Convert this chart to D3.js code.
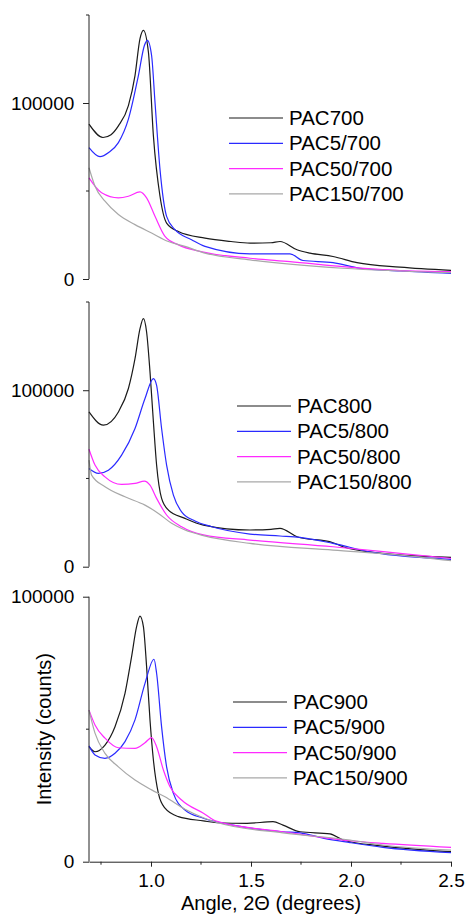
<!DOCTYPE html>
<html>
<head>
    <title>SAXS patterns of PAC samples</title>
    <script src="https://d3js.org/d3.v7.min.js"></script>
    <style>
        body { margin: 0; background: #fff; }
        .axis path, .axis line { stroke: #222; stroke-width: 1; }
        .axis text { font-family: "Liberation Sans", Arial, sans-serif; font-size: 19px; fill: #000; }
        .legend text { font-family: "Liberation Sans", Arial, sans-serif; font-size: 20.5px; fill: #000; }
        .axis-title { font-family: "Liberation Sans", Arial, sans-serif; font-size: 20px; fill: #000; }
        .curve { fill: none; stroke-width: 1.2; }
    </style>
</head>
<body>
<div id="chart"></div>
<script>
// angle (2 theta, degrees), intensity (counts)
const pac700 = [[0.69,88000],[0.76,80400],[0.8,82000],[0.837,87000],[0.887,98500],[0.92,115600],[0.945,136600],[0.962,141300],[0.987,129000],[1.012,81300],[1.045,47000],[1.078,31800],[1.137,27000],[1.27,23200],[1.4,21300],[1.495,20400],[1.6,20600],[1.645,21300],[1.73,16600],[1.795,14700],[1.91,12800],[2.03,9300],[2.245,6700],[2.5,4900]];
const pac5_700 = [[0.69,74700],[0.745,69500],[0.79,72000],[0.837,77500],[0.887,90800],[0.937,115600],[0.967,132700],[0.982,135600],[1.003,127000],[1.02,100400],[1.045,62300],[1.078,35600],[1.12,28000],[1.203,22300],[1.27,18500],[1.495,14300],[1.695,14300],[1.76,10500],[1.91,9300],[2.045,6100],[2.245,4600],[2.5,3200]];
const pac50_700 = [[0.69,57500],[0.753,49000],[0.837,46100],[0.887,47000],[0.945,49500],[0.978,46100],[1.02,35600],[1.07,24200],[1.137,19400],[1.25,15600],[1.495,11800],[1.695,9900],[1.96,7000],[2.245,4800],[2.5,4200]];
const pac150_700 = [[0.69,63200],[0.72,52700],[0.77,44200],[0.837,36600],[0.92,30900],[1.003,26100],[1.087,21300],[1.17,18500],[1.26,15000],[1.495,10900],[1.96,6100],[2.5,3600]];

const pac800 = [[0.69,87700],[0.762,80200],[0.837,87700],[0.887,101000],[0.92,117900],[0.945,134900],[0.962,140600],[0.978,133000],[0.995,110400],[1.012,82100],[1.028,57600],[1.053,38700],[1.087,32100],[1.17,27400],[1.262,23600],[1.495,20800],[1.6,21200],[1.645,21700],[1.73,17000],[1.91,13600],[1.96,11300],[2.11,8100],[2.5,5300]];
const pac5_800 = [[0.69,55700],[0.737,52900],[0.787,54700],[0.853,63200],[0.92,78300],[0.97,95300],[1.012,106600],[1.028,102800],[1.053,78300],[1.078,57600],[1.112,40600],[1.153,31100],[1.22,25900],[1.3,22800],[1.495,18500],[1.645,17400],[1.745,16600],[1.91,13200],[2.11,8100],[2.5,4200]];
const pac50_800 = [[0.69,66600],[0.72,57600],[0.77,50900],[0.853,46600],[0.92,47200],[0.967,48500],[0.995,46200],[1.028,38700],[1.078,29300],[1.153,22600],[1.262,18000],[1.495,15100],[1.91,11300],[2.245,7600],[2.5,4700]];
const pac150_800 = [[0.69,60400],[0.703,51900],[0.77,45300],[0.87,39600],[0.97,34900],[1.037,30200],[1.103,24600],[1.17,20800],[1.262,17600],[1.495,13200],[1.91,9400],[2.245,6600],[2.5,3400]];

const pac900 = [[0.69,43400],[0.72,41500],[0.77,44000],[0.82,50900],[0.87,63500],[0.903,77400],[0.928,88700],[0.945,92700],[0.962,88700],[0.978,73600],[0.995,53500],[1.012,38400],[1.037,25800],[1.07,20200],[1.137,17000],[1.262,15400],[1.33,14700],[1.48,14500],[1.61,15100],[1.66,13800],[1.745,11300],[1.895,10500],[1.96,8200],[2.16,5900],[2.5,3800]];
const pac5_900 = [[0.69,43700],[0.72,40300],[0.77,39000],[0.82,40900],[0.87,45300],[0.92,53500],[0.97,67300],[1.015,76400],[1.028,71100],[1.053,50900],[1.078,35800],[1.112,25800],[1.17,19500],[1.262,16400],[1.41,13800],[1.66,11300],[1.745,10900],[1.865,8800],[1.995,7200],[2.16,5400],[2.5,3400]];
const pac50_900 = [[0.69,57200],[0.72,51600],[0.77,46600],[0.837,43000],[0.92,42800],[0.97,44900],[1.003,46800],[1.028,43400],[1.062,34600],[1.095,28300],[1.153,23300],[1.262,18300],[1.33,15200],[1.66,11300],[1.995,7900],[2.16,6900],[2.5,5400]];
const pac150_900 = [[0.69,57200],[0.72,48500],[0.77,40900],[0.837,35800],[0.92,30800],[1.003,27100],[1.07,24500],[1.17,19800],[1.262,16600],[1.33,14800],[1.66,10900],[1.995,8200],[2.16,6300],[2.5,4400]];

const labels700 = ["PAC700", "PAC5/700", "PAC50/700", "PAC150/700"];
const labels800 = ["PAC800", "PAC5/800", "PAC50/800", "PAC150/800"];
const labels900 = ["PAC900", "PAC5/900", "PAC50/900", "PAC150/900"];

const yMax = [150000, 150000, 100000];
const xTicks = [1.0, 1.5, 2.0, 2.5];

const colors = ["#1a1a1a", "#2a2aff", "#ff2aff", "#a8a8a8"];

const W = 467, H = 914;
const left = 89, right = 451;

// panel boxes in pixels
const panels = [
    { top: 15, bottom: 279, series: [pac700, pac5_700, pac50_700, pac150_700], labels: labels700, lx: 229, ly: 118 },
    { top: 302, bottom: 566.7, series: [pac800, pac5_800, pac50_800, pac150_800], labels: labels800, lx: 237, ly: 406 },
    { top: 596.7, bottom: 861.7, series: [pac900, pac5_900, pac50_900, pac150_900], labels: labels900, lx: 233, ly: 702 }
];

const svg = d3.select("#chart").append("svg")
    .attr("width", W)
    .attr("height", H);

const x = d3.scaleLinear().domain([0.69, 2.5]).range([left, right]);

panels.forEach((p, i) => {
    const y = d3.scaleLinear().domain([0, yMax[i]]).range([p.bottom, p.top]);

    const line = d3.line()
        .x(d => x(d[0]))
        .y(d => y(d[1]))
        .curve(d3.curveMonotoneX);

    p.series.forEach((s, k) => {
        svg.append("path")
            .datum(s)
            .attr("class", "curve")
            .attr("stroke", colors[k])
            .attr("d", line);
    });

    // y axis: major ticks every 100000, minor every 50000
    const yAxis = svg.append("g")
        .attr("class", "axis")
        .attr("transform", `translate(${left},0)`)
        .call(d3.axisLeft(y).tickValues(d3.range(0, yMax[i] + 1, 100000)).tickSize(6).tickSizeOuter(0).tickFormat(d3.format("d")));
    yAxis.selectAll("text").attr("dx", "-0.3em");
    yAxis.select(".domain").attr("d", `M0,${p.bottom}V${p.top}`);
    yAxis.selectAll(".minor")
        .data(d3.range(50000, yMax[i] + 1, 100000))
        .enter().append("line")
        .attr("x1", -3).attr("x2", 0)
        .attr("y1", d => y(d)).attr("y2", d => y(d));

    // legend
    const lg = svg.append("g").attr("class", "legend");
    p.labels.forEach((name, k) => {
        const yy = p.ly + k * 25.3;
        lg.append("line")
            .attr("x1", p.lx).attr("x2", p.lx + 54)
            .attr("y1", yy).attr("y2", yy)
            .attr("stroke", colors[k]).attr("stroke-width", 1.2);
        lg.append("text")
            .attr("x", p.lx + 60).attr("y", yy)
            .attr("dy", "0.35em")
            .text(name);
    });

    if (i === 2) {
        const xAxis = svg.append("g")
            .attr("class", "axis")
            .attr("transform", `translate(0,${p.bottom})`)
            .call(d3.axisBottom(x).tickValues(xTicks).tickSize(5).tickSizeOuter(0).tickFormat(d3.format(".1f")));
        xAxis.selectAll("text").attr("dy", "0.92em");
        xAxis.selectAll(".minor")
            .data(d3.range(0.75, 2.5, 0.5))
            .enter().append("line")
            .attr("y1", 0).attr("y2", 3)
            .attr("x1", d => x(d)).attr("x2", d => x(d));

        svg.append("text")
            .attr("class", "axis-title")
            .attr("x", 271)
            .attr("y", 910)
            .attr("text-anchor", "middle")
            .text("Angle, 2\u0398 (degrees)");

        svg.append("text")
            .attr("class", "axis-title")
            .attr("transform", `translate(51,${(p.top + p.bottom) / 2}) rotate(-90)`)
            .attr("text-anchor", "middle")
            .text("Intensity (counts)");
    }
});
</script>
</body>
</html>
